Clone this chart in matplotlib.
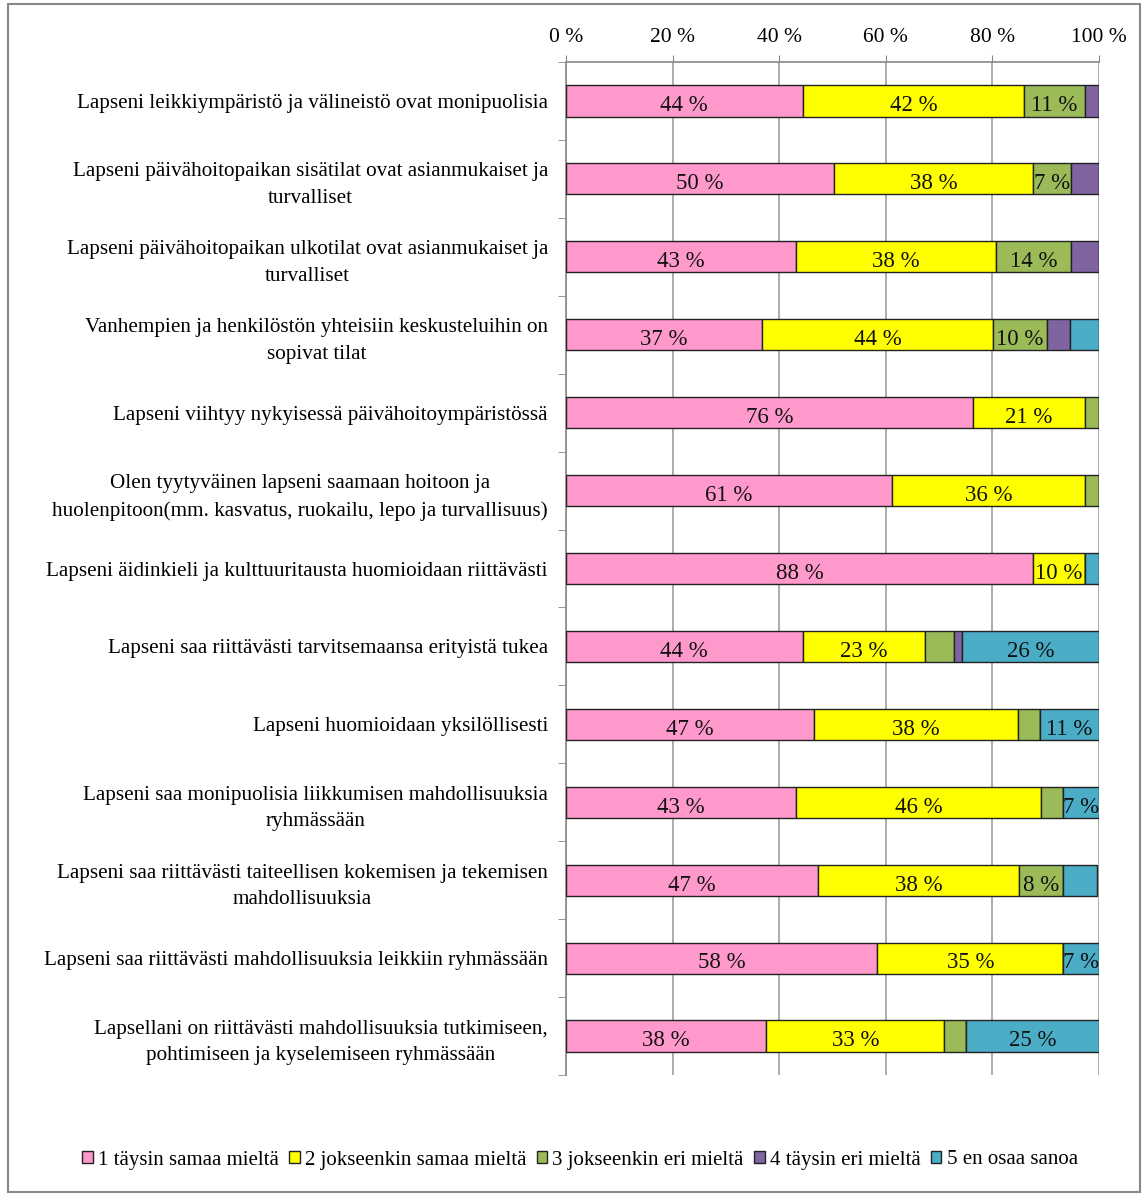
import matplotlib
matplotlib.use("Agg")
import matplotlib.pyplot as plt
import numpy as np
from matplotlib.patches import Rectangle

categories = [
    "Lapseni leikkiympäristö ja välineistö ovat monipuolisia",
    "Lapseni päivähoitopaikan sisätilat ovat asianmukaiset ja\nturvalliset",
    "Lapseni päivähoitopaikan ulkotilat ovat asianmukaiset ja\nturvalliset",
    "Vanhempien ja henkilöstön yhteisiin keskusteluihin on\nsopivat tilat",
    "Lapseni viihtyy nykyisessä päivähoitoympäristössä",
    "Olen tyytyväinen lapseni saamaan hoitoon ja\nhuolenpitoon(mm. kasvatus, ruokailu, lepo ja turvallisuus)",
    "Lapseni äidinkieli ja kulttuuritausta huomioidaan riittävästi",
    "Lapseni saa riittävästi tarvitsemaansa erityistä tukea",
    "Lapseni huomioidaan yksilöllisesti",
    "Lapseni saa monipuolisia liikkumisen mahdollisuuksia\nryhmässään",
    "Lapseni saa riittävästi taiteellisen kokemisen ja tekemisen\nmahdollisuuksia",
    "Lapseni saa riittävästi mahdollisuuksia leikkiin ryhmässään",
    "Lapsellani on riittävästi mahdollisuuksia tutkimiseen,\npohtimiseen ja kyselemiseen ryhmässään",
]

series_names = ["1 täysin samaa mieltä", "2 jokseenkin samaa mieltä",
                "3 jokseenkin eri mieltä", "4 täysin eri mieltä", "5 en osaa sanoa"]

s1 = [44.4, 50.2, 43.2, 36.7, 76.4, 61.1, 87.6, 44.4, 46.6, 43.2, 47.3, 58.4, 37.6]
s2 = [41.6, 37.5, 37.5, 43.5, 21.0, 36.3, 9.8, 23.0, 38.2, 45.9, 37.6, 34.9, 33.4]
s3 = [11.3, 7.0, 14.0, 10.0, 2.6, 2.6, 0.0, 5.4, 4.1, 4.2, 8.4, 0.0, 4.1]
s4 = [2.7, 5.3, 5.3, 4.3, 0.0, 0.0, 0.0, 1.5, 0.0, 0.0, 0.0, 0.0, 0.0]
s5 = [0.0, 0.0, 0.0, 5.5, 0.0, 0.0, 2.6, 25.7, 11.1, 6.7, 6.4, 6.7, 24.9]

colors = ["#FF99CC", "#FFFF00", "#9BBB59", "#8064A2", "#4BACC6"]
xticks = [0, 20, 40, 60, 80, 100]
label_threshold = 6.5

plt.rcParams['font.family'] = ['Liberation Serif', 'DejaVu Serif']

fig = plt.figure(figsize=(11.44, 11.96), dpi=100)
ax = fig.add_axes([566/1144, 1-1075/1196, (1099-566)/1144, (1075-62)/1196])

y = np.arange(len(categories))
data = [s1, s2, s3, s4, s5]
left = np.zeros(len(categories))
for vals, col, name in zip(data, colors, series_names):
    vals = np.array(vals)
    ax.barh(y, vals, left=left, height=0.40, color=col,
            edgecolor="#222222", linewidth=1.0, label=name, zorder=3)
    for yi, v, l in zip(y, vals, left):
        if v >= label_threshold:
            ax.text(l + v / 2, yi + 0.03, f"{round(v):d} %", ha="center", va="center_baseline",
                    fontsize=16.5, color="#111111", zorder=4)
    left += vals

ax.set_xlim(0, 100)
ax.set_ylim(len(categories) - 0.5, -0.5)
ax.xaxis.tick_top()
ax.set_xticks(xticks)
ax.set_xticklabels([f"{t} %" for t in xticks], fontsize=15.5)
ax.tick_params(axis="x", direction="out", length=5, color="#888888", pad=6)
ax.set_yticks(y)
ax.set_yticklabels(categories, fontsize=15.2, multialignment="center", linespacing=1.55)
ax.tick_params(axis="y", length=0, pad=13)
ax.set_yticks(np.arange(len(categories) + 1) - 0.5, minor=True)
ax.tick_params(axis="y", which="minor", direction="out", length=6, color="#888888")
ax.grid(axis="x", color="#A0A0A0", linewidth=1.2, zorder=0)
for s in ["bottom", "right"]:
    ax.spines[s].set_visible(False)
for s in ["top", "left"]:
    ax.spines[s].set_color("#888888")
    ax.spines[s].set_linewidth(1.2)

handles, labels = ax.get_legend_handles_labels()
fig.legend(handles, labels, loc="center", bbox_to_anchor=(580/1144, 1-1160/1196),
           ncol=5, frameon=False, fontsize=15.0, handlelength=0.5, handleheight=0.5,
           handletextpad=0.25, columnspacing=0.5)

fig.patches.append(Rectangle((8/1144, 4/1196), (1140-8)/1144, (1192-4)/1196,
                             transform=fig.transFigure, fill=False,
                             edgecolor="#888888", linewidth=1.5))

fig.savefig("out.png", dpi=100, facecolor="white")
